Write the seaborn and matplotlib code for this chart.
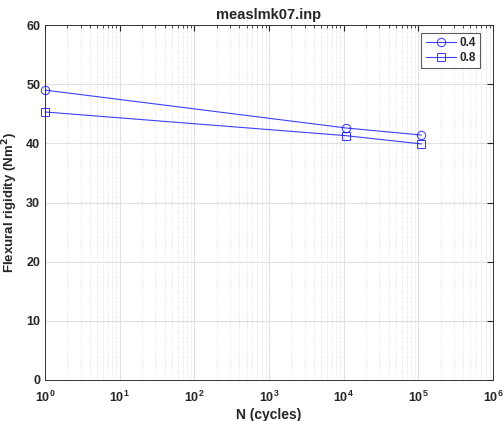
import numpy as np
import pandas as pd
import seaborn as sns
import matplotlib
matplotlib.use('Agg')
import matplotlib.pyplot as plt

# datos
n_cycles = [1, 1.07e4, 1.1e5]
rig_04 = [49.0, 42.6, 41.4]
rig_08 = [45.3, 41.3, 39.9]
series = ['0.4', '0.8']

df = pd.DataFrame({
    'N': n_cycles * 2,
    'EI': rig_04 + rig_08,
    'serie': [series[0]] * 3 + [series[1]] * 3,
})

sns.set_style('white')
plt.rcParams['font.family'] = ['Liberation Sans', 'DejaVu Sans']
plt.rcParams['font.weight'] = 'bold'

fig = plt.figure(figsize=(5.03, 4.21), dpi=100)
ax = fig.add_axes([0.0895, 0.0974, 0.8905, 0.8432])

sns.lineplot(data=df, x='N', y='EI', hue='serie', style='serie',
             markers={'0.4': 'o', '0.8': 's'}, dashes=False,
             palette={'0.4': 'blue', '0.8': 'blue'}, ax=ax,
             markersize=6, markerfacecolor='none', markeredgecolor='blue',
             linewidth=0.8, alpha=0.75, clip_on=False, zorder=5)

ax.set_xscale('log')
ax.set_xlim(1, 1e6)
ax.set_ylim(0, 60)
ax.set_yticks(range(0, 61, 10))
ax.set_xticks([10.0 ** k for k in range(7)])

ax.grid(True, which='major', color='#e0e0e0', linewidth=0.8)
ax.grid(True, which='minor', color='#d4d4d4', linestyle=(0, (1, 2)), linewidth=0.6)
ax.tick_params(which='both', direction='in', top=True, right=True, labelsize=9)
ax.tick_params(which='major', length=4)
ax.tick_params(which='minor', length=2)
ax.tick_params(axis='x', which='major', pad=7)
for s in ax.spines.values():
    s.set_color('#333333')
    s.set_linewidth(0.7)
for lbl in ax.get_xticklabels() + ax.get_yticklabels():
    lbl.set_fontweight('bold')

ax.set_xlabel('N (cycles)', fontsize=10, fontweight='bold', labelpad=2)
ax.set_ylabel('Flexural rigidity (Nm$^2$)', fontsize=9.5, fontweight='bold')
ax.set_title('measlmk07.inp', fontsize=10.5, fontweight='bold', pad=4)

leg = ax.legend(title=None, loc='upper right', fontsize=8.5, frameon=True,
                fancybox=False, edgecolor='#333333', borderpad=0.35,
                handlelength=2.6, handletextpad=0.3, labelspacing=0.3,
                bbox_to_anchor=(0.985, 0.995))
leg.get_frame().set_linewidth(0.8)
for h in leg.get_lines():
    h.set_markerfacecolor('none')
    h.set_markeredgecolor('blue')
    h.set_alpha(0.75)

fig.savefig('out.png', dpi=100)
